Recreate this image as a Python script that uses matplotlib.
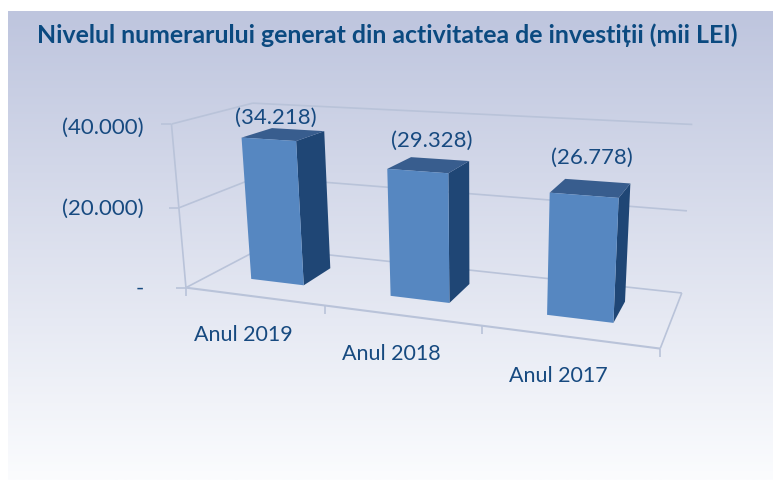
import numpy as np
import matplotlib
matplotlib.use("Agg")
import matplotlib.pyplot as plt
from matplotlib.patches import Polygon

title = "Nivelul numerarului generat din activitatea de investiții (mii LEI)"
categories = ["Anul 2019", "Anul 2018", "Anul 2017"]
values = [34218, 29328, 26778]
axis_values = [0, 20000, 40000]
axis_labels = ["-", "(20.000)", "(40.000)"]
value_labels = ["(34.218)", "(29.328)", "(26.778)"]

W, H = 773, 480
TEXT = "#174a80"
GRID = "#b9c3d9"
FRONT = "#5687c1"
SIDE = "#1f4675"
TOP = "#385d8e"
FONT = "Lato"

# box corners seen on screen: (category pos, value, depth) -> pixel
world = [(0, 0, 0), (3, 0, 0), (0, 0, 1), (3, 0, 1),
         (0, 40000, 0), (0, 40000, 1), (3, 40000, 1), (3, 40000, 0),
         (1, 0, 0), (2, 0, 0), (0, 20000, 0), (3, 20000, 1)]
screen = [(185, 288), (659, 349), (263, 246), (682, 292),
          (173, 124), (251, 103.5), (693, 127), (671, 150),
          (325.3, 306.7), (482.7, 326.7), (179, 208), (687, 211)]


def fit_camera(world, screen):
    rows = []
    for (x, y, z), (u, v) in zip(world, screen):
        y = y / 40000
        rows.append([x, y, z, 1, 0, 0, 0, 0, -u * x, -u * y, -u * z, -u])
        rows.append([0, 0, 0, 0, x, y, z, 1, -v * x, -v * y, -v * z, -v])
    return np.linalg.svd(np.array(rows))[2][-1].reshape(3, 4)


cam = fit_camera(world, screen)


def project(x, val, d):
    p = cam @ np.array([x, val / 40000, d, 1.0])
    return p[0] / p[2], p[1] / p[2]


def seg(ax, pa, pb, lw=1.2):
    ax.plot([pa[0], pb[0]], [pa[1], pb[1]], color=GRID, lw=lw, zorder=2,
            solid_capstyle="butt")


fig = plt.figure(figsize=(W / 100, H / 100), dpi=100)
ax = fig.add_axes([0, 0, 1, 1])
ax.axis("off")

# panel gradient
grad = np.linspace(0, 1, 256).reshape(-1, 1)
c0 = np.array([190, 197, 222]) / 255
c1 = np.array([251, 252, 254]) / 255
ax.imshow(c0 + (c1 - c0) * grad[..., None], extent=(8, W, H, 11),
          aspect="auto", zorder=0)
ax.set_xlim(0, W)
ax.set_ylim(H, 0)

# walls, floor and gridlines
for v in axis_values:
    p = project(0, v, 0)
    seg(ax, p, project(0, v, 1))
    seg(ax, project(0, v, 1), project(3, v, 1))
    seg(ax, (p[0] - 10, p[1]), p)
seg(ax, project(0, 0, 0), project(3, 0, 0), 1.5)
seg(ax, project(3, 0, 0), project(3, 0, 1))
seg(ax, project(0, 0, 0), project(0, 40000, 0))
for i in range(4):
    p = project(i, 0, 0)
    seg(ax, p, (p[0], p[1] + 8))

# bars
half = 0.195
d0, d1 = 0.31, 0.71
bar_stretch = 1.04  # bars stand a bit above the frame's scale in the original
label_nudge = [(-8, -16), (3, -24), (1, -30)]
for i, val in enumerate(values):
    x0, x1 = i + 0.5 - half, i + 0.5 + half
    h = val * bar_stretch
    front = [project(x0, 0, d0), project(x1, 0, d0), project(x1, h, d0), project(x0, h, d0)]
    side = [project(x1, 0, d0), project(x1, 0, d1), project(x1, h, d1), project(x1, h, d0)]
    top = [project(x0, h, d0), project(x1, h, d0), project(x1, h, d1), project(x0, h, d1)]
    ax.add_patch(Polygon(side, fc=SIDE, ec="none", zorder=3))
    ax.add_patch(Polygon(top, fc=TOP, ec="none", zorder=3))
    ax.add_patch(Polygon(front, fc=FRONT, ec="none", zorder=4))
    tx = project(i + 0.5, h, (d0 + d1) / 2)
    ax.text(tx[0] + label_nudge[i][0], tx[1] + label_nudge[i][1], value_labels[i],
            color=TEXT, fontsize=15.9, family=FONT, ha="center", va="center", zorder=5)

# category labels
for i, name in enumerate(categories):
    p = project(i + 0.5, 0, 0)
    ax.text(p[0] - 10, p[1] + 39, name, color=TEXT, fontsize=15.5, family=FONT,
            ha="center", va="center", zorder=5)

# value axis labels
axis_nudge = [1, 1, 4]
for v, lab, dy in zip(axis_values, axis_labels, axis_nudge):
    p = project(0, v, 0)
    ax.text(144, p[1] + dy, lab, color=TEXT, fontsize=16, family=FONT,
            ha="right", va="center", zorder=5)

ax.text(387.5, 35, title, color="#0b4a80", fontsize=17.9, fontweight="bold",
        family=[FONT, "Open Sans"], ha="center", va="center", zorder=5)

fig.savefig("out.png", dpi=100)
